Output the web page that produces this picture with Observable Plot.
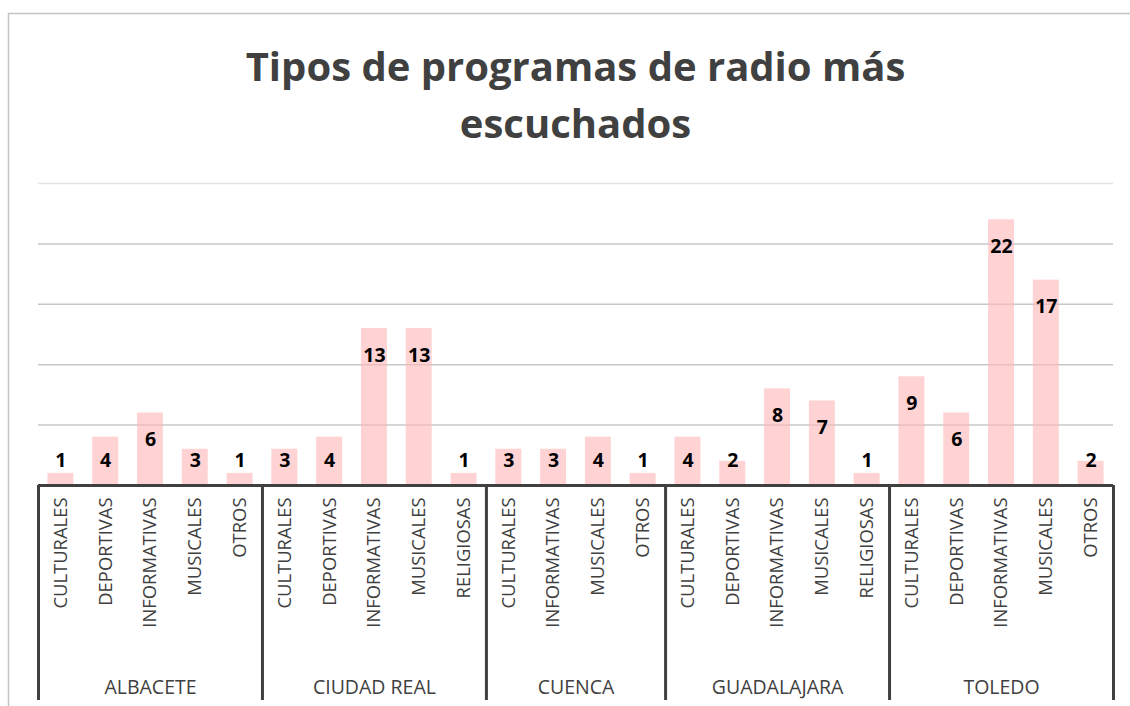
<!DOCTYPE html>
<html>
<head>
<meta charset="utf-8">
<script src="https://cdn.jsdelivr.net/npm/d3@7"></script>
<script src="https://cdn.jsdelivr.net/npm/@observablehq/plot@0.6"></script>
<style>
  html, body { margin: 0; padding: 0; background: #fff; }
  #chart svg { display: block; }
</style>
</head>
<body>
<div id="chart"></div>
<script>
const titleLine1 = "Tipos de programas de radio más";
const titleLine2 = "escuchados";
const provinces = ["ALBACETE", "CIUDAD REAL", "CUENCA", "GUADALAJARA", "TOLEDO"];
const groupOf = ["ALBACETE","ALBACETE","ALBACETE","ALBACETE","ALBACETE",
  "CIUDAD REAL","CIUDAD REAL","CIUDAD REAL","CIUDAD REAL","CIUDAD REAL",
  "CUENCA","CUENCA","CUENCA","CUENCA",
  "GUADALAJARA","GUADALAJARA","GUADALAJARA","GUADALAJARA","GUADALAJARA",
  "TOLEDO","TOLEDO","TOLEDO","TOLEDO","TOLEDO"];
const categories = ["CULTURALES","DEPORTIVAS","INFORMATIVAS","MUSICALES","OTROS",
  "CULTURALES","DEPORTIVAS","INFORMATIVAS","MUSICALES","RELIGIOSAS",
  "CULTURALES","INFORMATIVAS","MUSICALES","OTROS",
  "CULTURALES","DEPORTIVAS","INFORMATIVAS","MUSICALES","RELIGIOSAS",
  "CULTURALES","DEPORTIVAS","INFORMATIVAS","MUSICALES","OTROS"];
const values = [1, 4, 6, 3, 1,
  3, 4, 13, 13, 1,
  3, 3, 4, 1,
  4, 2, 8, 7, 1,
  9, 6, 22, 17, 2];
const gridTicks = [5, 10, 15, 20, 25];

const data = values.map((v, i) => ({i, value: v, category: categories[i], group: groupOf[i]}));
const groups = provinces.map(p => {
  const idx = data.filter(d => d.group === p).map(d => d.i);
  return {name: p, start: d3.min(idx), end: d3.max(idx) + 1};
});
const bounds = [0, ...groups.map(g => g.end)];

const font = "'Open Sans', 'Liberation Sans', sans-serif";

const chart = Plot.plot({
  width: 1130,
  height: 706,
  margin: 0,
  style: {fontFamily: font, background: "#fff"},
  x: {type: "linear", domain: [0, 24], range: [38, 1113], axis: null},
  y: {type: "linear", domain: [0, 25], range: [485, 183], axis: null},
  marks: [
    Plot.frame({stroke: "#c4c4c4", strokeWidth: 1.5, insetLeft: 8, insetTop: 13, insetRight: -10, insetBottom: -10}),
    Plot.ruleY(gridTicks, {x1: 0, x2: 24, stroke: d => d === 25 ? "#e3e3e3" : "#c8c8c8", strokeWidth: 1.5}),
    Plot.rectY(data, {x1: d => d.i + 0.21, x2: d => d.i + 0.79, y1: 0, y2: "value", fill: "#ffb8b8", fillOpacity: 0.62}),
    Plot.ruleY([0], {x1: 0, x2: 24, stroke: "#404040", strokeWidth: 3}),
    Plot.ruleX(bounds, {x: d => d, insetTop: 485, insetBottom: 6, stroke: "#404040", strokeWidth: 3}),
    Plot.text(data, {x: d => d.i + 0.5, y: d => Math.max(d.value - 2.23, 2.07), text: d => String(d.value),
      fontWeight: 700, fontSize: 19.5, fill: "#000"}),
    Plot.text(data, {x: d => d.i + 0.5, y: 0, dy: 12, text: "category", rotate: -90, textAnchor: "end",
      fontSize: 18.4, fill: "#404040"}),
    Plot.text(groups, {x: d => (d.start + d.end) / 2, frameAnchor: "bottom", dy: -13, text: "name",
      fontSize: 19.5, fill: "#404040"}),
    Plot.text([titleLine1], {frameAnchor: "top", lineAnchor: "bottom", dx: 10, dy: 80, text: d => d,
      fontWeight: 700, fontSize: 40, fill: "#404040"}),
    Plot.text([titleLine2], {frameAnchor: "top", lineAnchor: "bottom", dx: 10, dy: 137, text: d => d,
      fontWeight: 700, fontSize: 40, fill: "#404040"})
  ]
});
document.getElementById("chart").append(chart);
</script>
</body>
</html>
